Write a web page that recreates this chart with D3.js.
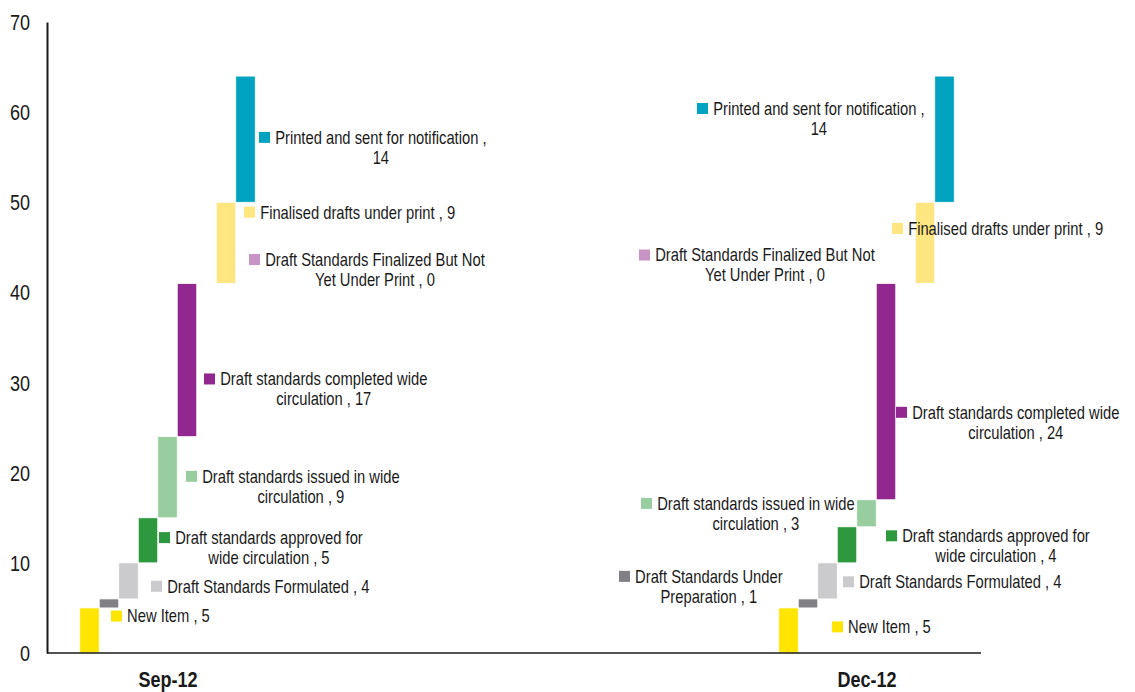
<!DOCTYPE html>
<html>
<head>
<meta charset="utf-8">
<script src="https://cdn.jsdelivr.net/npm/d3@7"></script>
<style>
  body { margin: 0; background: #fff; }
  svg text { font-family: "Liberation Sans", Arial, sans-serif; fill: #1a1a1a; }
</style>
</head>
<body>
<svg id="chart"></svg>
<script>
const categories = ["Sep-12", "Dec-12"];
const seriesNames = [
  "New Item",
  "Draft Standards Under Preparation",
  "Draft Standards Formulated",
  "Draft standards approved for wide circulation",
  "Draft standards issued in wide circulation",
  "Draft standards completed wide circulation",
  "Draft Standards Finalized But Not Yet Under Print",
  "Finalised drafts under print",
  "Printed and sent for notification"
];
const sepValues = [5, 1, 4, 5, 9, 17, 0, 9, 14];
const decValues = [5, 1, 4, 4, 3, 24, 0, 9, 14];
const yTicks = [0, 10, 20, 30, 40, 50, 60, 70];

const seriesColors = ["#ffe500", "#808085", "#cbcbcd", "#2e983e", "#98cd9f", "#92278f", "#c894c6", "#ffe680", "#00a3bf"];

// label placement: [marker x offset from group centre (px), marker y (data units), words on first line]
const sepLabels = [
  [-56.5, 4.1, 0], null, [-16.5, 7.4, 0], [-8.5, 12.8, 4], [18.5, 19.6, 5],
  [36.5, 30.4, 4], [81.5, 43.65, 5], [76.5, 48.9, 0], [91.5, 57.2, 6]
];
const decLabels = [
  [-34.5, 2.9, 0], [-247.5, 8.5, 3], [-23.5, 7.9, 0], [19.5, 13.0, 4], [-225.5, 16.6, 5],
  [29.5, 26.7, 4], [-227.5, 44.15, 5], [25.5, 47.1, 0], [-169.5, 60.4, 6]
];

const width = 1135, height = 692;
const margin = { top: 22, right: 154, bottom: 39, left: 47 };
const squeeze = 0.82; // the source font is a narrow face

const svg = d3.select("#chart").attr("width", width).attr("height", height);

const y = d3.scaleLinear().domain([0, 70]).range([height - margin.bottom, margin.top]);
const x = d3.scalePoint().domain(categories).range([167.5, 866.5]);
const inner = d3.scaleBand().domain(d3.range(seriesNames.length)).range([-87.75, 87.75]).padding(0);

const groups = [
  { cat: "Sep-12", values: sepValues, labels: sepLabels },
  { cat: "Dec-12", values: decValues, labels: decLabels }
];

groups.forEach(g => {
  const ends = d3.cumsum(g.values);
  g.bars = g.values.map((v, i) => ({ i, start: ends[i] - v, end: ends[i], value: v }));
});

// bars
const barG = svg.append("g");
groups.forEach(g => {
  barG.append("g")
    .attr("transform", `translate(${x(g.cat)},0)`)
    .selectAll("rect")
    .data(g.bars.filter(d => d.value > 0))
    .join("rect")
    .attr("x", d => inner(d.i))
    .attr("width", inner.bandwidth())
    .attr("y", d => y(d.end))
    .attr("height", d => y(d.start) - y(d.end))
    .attr("fill", d => seriesColors[d.i])
    .attr("stroke", "#fff")
    .attr("stroke-width", 0.8);
});

// axes
const yAxis = svg.append("g")
  .attr("transform", `translate(${margin.left},0)`)
  .call(d3.axisLeft(y).tickValues(yTicks).tickSize(0).tickSizeOuter(0).tickPadding(17 / squeeze));
yAxis.select(".domain").attr("stroke", "#1a1a1a").attr("stroke-width", 2);
yAxis.selectAll("text")
  .style("font-size", "22px")
  .attr("dy", "0.34em")
  .attr("transform", `scale(${squeeze},1)`);

svg.append("line")
  .attr("x1", margin.left).attr("x2", width - margin.right)
  .attr("y1", y(0)).attr("y2", y(0))
  .attr("stroke", "#1a1a1a").attr("stroke-width", 1.6);

const xAxis = svg.append("g")
  .attr("transform", `translate(0,${y(0)})`)
  .call(d3.axisBottom(x).tickSize(0).tickPadding(18));
xAxis.select(".domain").remove();
xAxis.selectAll("text")
  .style("font-size", "22px")
  .style("font-weight", "bold")
  .attr("dy", "0.71em")
  .attr("transform", `scale(${squeeze},1)`);

// data labels
const labelG = svg.append("g");
groups.forEach(g => {
  g.bars.forEach(d => {
    const pos = g.labels[d.i];
    if (!pos) return;
    const words = `${seriesNames[d.i]} , ${d.value}`.split(" ");
    const lines = pos[2] > 0 ? [words.slice(0, pos[2]).join(" "), words.slice(pos[2]).join(" ")] : [words.join(" ")];
    const lg = labelG.append("g")
      .attr("transform", `translate(${x(g.cat) + pos[0]},${y(pos[1])})`);
    lg.append("rect")
      .attr("x", 0).attr("y", -5.5)
      .attr("width", 11).attr("height", 11)
      .attr("fill", seriesColors[d.i]);
    const tg = lg.append("g");
    const t = tg.append("text").style("font-size", "18px").attr("text-anchor", "middle");
    t.append("tspan").attr("x", 0).attr("dy", "0.35em").text(lines[0]);
    if (lines[1]) {
      t.append("tspan").attr("x", 0).attr("y", 20).attr("dy", "0.35em").text(lines[1]);
    }
    const w = t.select("tspan").node().getComputedTextLength() * squeeze;
    tg.attr("transform", `translate(${16 + w / 2},0) scale(${squeeze},1)`);
  });
});
</script>
</body>
</html>
